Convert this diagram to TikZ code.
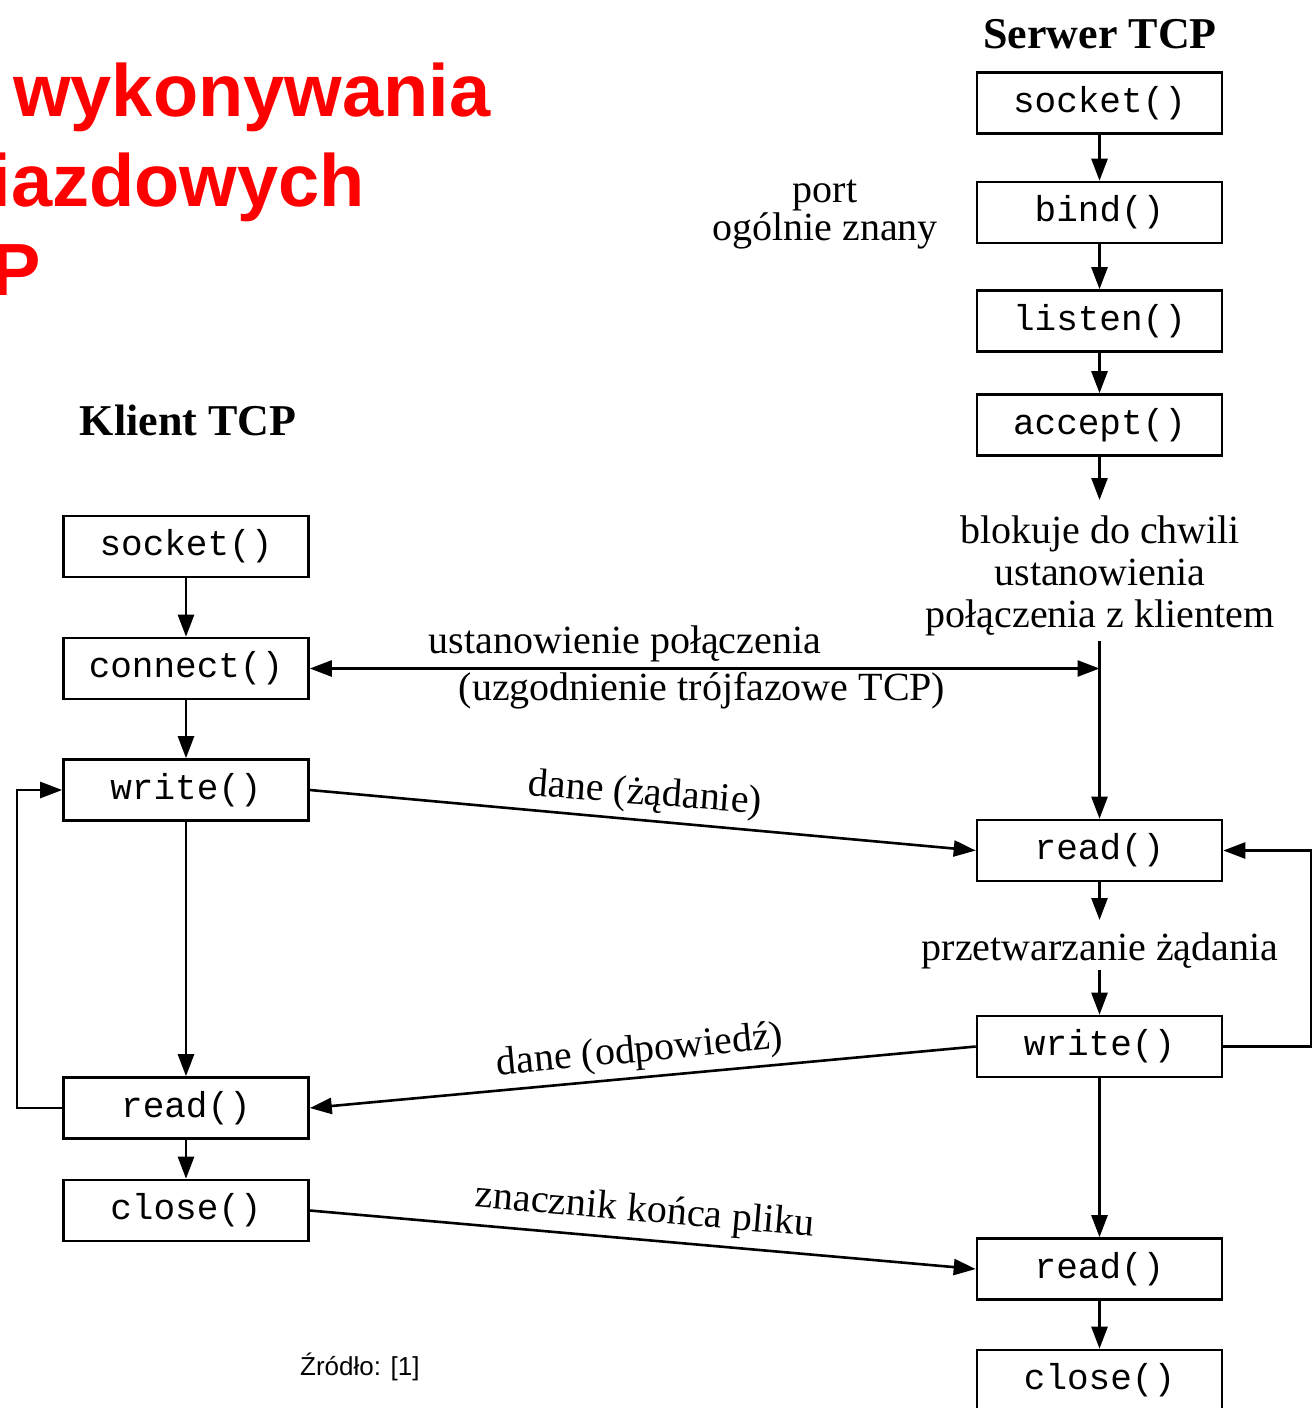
\documentclass[tikz,border=0pt]{standalone}
\usepackage{fontspec}
\setmainfont{Liberation Serif}
\newfontfamily\monof{Liberation Mono}
\newfontfamily\sansf{Liberation Sans}
\usetikzlibrary{arrows.meta}
\definecolor{tred}{RGB}{255,0,0}
\tikzset{
  fbox/.style={draw, line width=2.6pt, minimum width=245pt, minimum height=61pt, inner sep=0pt, font=\monof\fontsize{36}{36}\selectfont},
  lbl/.style={font=\fontsize{40}{42}\selectfont, inner sep=0pt},
  ttl/.style={font=\bfseries\fontsize{44}{44}\selectfont, inner sep=0pt},
  redt/.style={font=\sansf\bfseries\fontsize{74}{74}\selectfont, text=tred, inner sep=0pt},
  conn/.style={line width=2.6pt, -{Triangle[length=22pt,width=16pt]}},
  conn2/.style={line width=2.6pt, {Triangle[length=22pt,width=16pt]}-{Triangle[length=22pt,width=16pt]}},
}
\begin{document}
\begin{tikzpicture}[x=1pt,y=-1pt]
\useasboundingbox (0,0) rectangle (1313,1408);
\fill[white] (0,0) rectangle (1313,1408);
\clip (0,0) rectangle (1313,1408);

% red slide title (cut off at the left edge, as in the reference)
\node[redt, anchor=base west] (rt1) at (13,116) {wykonywania};
\node[redt, anchor=base east] (rt2) at (365,206) {iazdowych};
\node[redt, anchor=base east] (rt3) at (41,295) {P};

% titles
\node[ttl, anchor=base] (tserv) at (1100,48) {Serwer TCP};
\node[ttl, anchor=base] (tcli) at (188,435) {Klient TCP};

% client boxes
\node[fbox] (csock) at (186,546.5) {socket()};
\node[fbox] (cconn) at (186,668.5) {connect()};
\node[fbox] (cwrite) at (186,790) {write()};
\node[fbox] (cread) at (186,1108) {read()};
\node[fbox] (cclose) at (186,1210.5) {close()};

% server boxes
\node[fbox] (ssock) at (1099.5,103) {socket()};
\node[fbox] (sbind) at (1099.5,212.5) {bind()};
\node[fbox] (slisten) at (1099.5,321) {listen()};
\node[fbox] (saccept) at (1099.5,425) {accept()};
\node[fbox] (sread) at (1099.5,850.5) {read()};
\node[fbox] (swrite) at (1099.5,1046.5) {write()};
\node[fbox] (sread2) at (1099.5,1269) {read()};
\node[fbox] (sclose) at (1099.5,1380.5) {close()};

% helper coordinates
\coordinate (acc) at (1099.5,500);
\coordinate (vtop) at (1099.5,641);
\coordinate (hs) at (1099.5,668.5);
\coordinate (p1) at (1099.5,920);
\coordinate (p2) at (1099.5,970);
\coordinate (rR) at (1311,1046.5);
\coordinate (rT) at (1311,850.5);
\coordinate (lB) at (17,1108);
\coordinate (lT) at (17,790);

% server connectors
\draw[conn] (ssock) -- (sbind);
\draw[conn] (sbind) -- (slisten);
\draw[conn] (slisten) -- (saccept);
\draw[conn] (saccept) -- (acc);
\draw[conn] (vtop) -- (sread);
\draw[conn] (sread) -- (p1);
\draw[conn] (p2) -- (swrite);
\draw[conn] (swrite.east) -- (rR) -- (rT) -- (sread.east);
\draw[conn] (swrite) -- (sread2);
\draw[conn] (sread2) -- (sclose);

% client connectors
\draw[conn] (csock) -- (cconn);
\draw[conn] (cconn) -- (cwrite);
\draw[conn] (cwrite) -- (cread);
\draw[conn] (cread) -- (cclose);
\draw[conn] (cread.west) -- (lB) -- (lT) -- (cwrite.west);

% cross connectors
\draw[conn2] (cconn.east) -- (hs);
\draw[conn] (cwrite.east) -- (sread.west);
\draw[conn] (swrite.west) -- (cread.east);
\draw[conn] (cclose.east) -- (sread2.west);

% labels
\node[lbl, anchor=base] (port1) at (825,202) {port};
\node[lbl, anchor=base] (port2) at (825,240) {ogólnie znany};
\node[lbl, anchor=base] (blk1) at (1100,543) {blokuje do chwili};
\node[lbl, anchor=base] (blk2) at (1100,585) {ustanowienia};
\node[lbl, anchor=base] (blk3) at (1100,627) {połączenia z klientem};
\node[lbl, anchor=base] (proc) at (1100,960) {przetwarzanie żądania};
\node[lbl, anchor=base] (est1) at (625,653) {ustanowienie połączenia};
\node[lbl, anchor=base] (est2) at (702,700) {(uzgodnienie trójfazowe TCP)};
\node[lbl, rotate=-4.5] (req) at (645,795) {dane (żądanie)};
\node[lbl, rotate=5.5] (resp) at (640,1052) {dane (odpowiedź)};
\node[lbl, rotate=-5] (eof) at (645,1212) {znacznik końca pliku};
\node[font=\sansf\fontsize{26}{26}\selectfont, anchor=base west, inner sep=0pt] (src) at (300,1375) {Źródło: [1]};
\end{tikzpicture}
\end{document}
